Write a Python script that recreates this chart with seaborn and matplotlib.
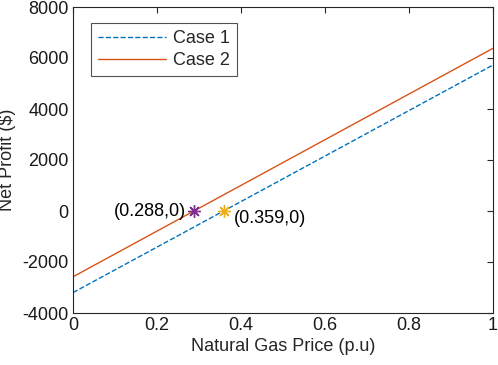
import matplotlib
matplotlib.use("Agg")
import matplotlib.pyplot as plt
import seaborn as sns
import pandas as pd

# data
price = [0.0, 1.0]
case1 = [-3200, 5725]
case2 = [-2580, 6380]
cross_x = [0.288, 0.359]
cross_y = [0, 0]
cross_labels = ["(0.288,0)", "(0.359,0)"]

sns.set_theme(style="white")
plt.rcParams['font.family'] = ['Liberation Sans', 'DejaVu Sans']
plt.rcParams['axes.unicode_minus'] = False

fig = plt.figure(figsize=(4.98, 3.65), dpi=100)
ax = fig.add_axes([73 / 498, 1 - 313 / 365, 420 / 498, 306 / 365])

sns.lineplot(x=price, y=case1, ax=ax, color='#0072BD', linestyle='--',
             linewidth=1.0, label='Case 1')
sns.lineplot(x=price, y=case2, ax=ax, color='#D95319', linestyle='-',
             linewidth=1.0, label='Case 2')

# zero crossings
ax.plot(cross_x[0], cross_y[0], marker=(8, 2, 0), color='#7E2F8E',
        markersize=9, markeredgewidth=1.0, linestyle='none')
ax.plot(cross_x[1], cross_y[1], marker=(8, 2, 0), color='#EDB120',
        markersize=9, markeredgewidth=1.0, linestyle='none')
ax.text(cross_x[0] - 0.019, cross_y[0], cross_labels[0], ha='right',
        va='center', fontsize=13, color='black')
ax.text(cross_x[1] + 0.025, cross_y[1] - 275, cross_labels[1], ha='left',
        va='center', fontsize=13, color='black')

ax.set_xlim(0, 1)
ax.set_ylim(-4000, 8000)
ax.set_xticks([0, 0.2, 0.4, 0.6, 0.8, 1])
ax.set_xticklabels(['0', '0.2', '0.4', '0.6', '0.8', '1'])
ax.set_yticks(range(-4000, 8001, 2000))
ax.set_xlabel('Natural Gas Price (p.u)', fontsize=13, color='#262626',
              labelpad=3)
ax.set_ylabel('Net Profit (\\$)', fontsize=13, color='#262626', labelpad=5)

for s in ax.spines.values():
    s.set_color('#262626')
    s.set_linewidth(0.8)
ax.tick_params(direction='in', length=4, width=0.8, colors='#262626',
               labelsize=13, top=True, right=True, labelcolor='#1a1a1a',
               pad=3)

leg = ax.legend(loc='upper left', bbox_to_anchor=(0.042, 0.949),
                borderaxespad=0, fontsize=13, frameon=True, fancybox=False,
                handlelength=3.8, handletextpad=0.35, borderpad=0.4,
                labelspacing=0.3)
leg.get_frame().set_edgecolor('#262626')
leg.get_frame().set_linewidth(0.8)

fig.savefig('out.png', dpi=100)
